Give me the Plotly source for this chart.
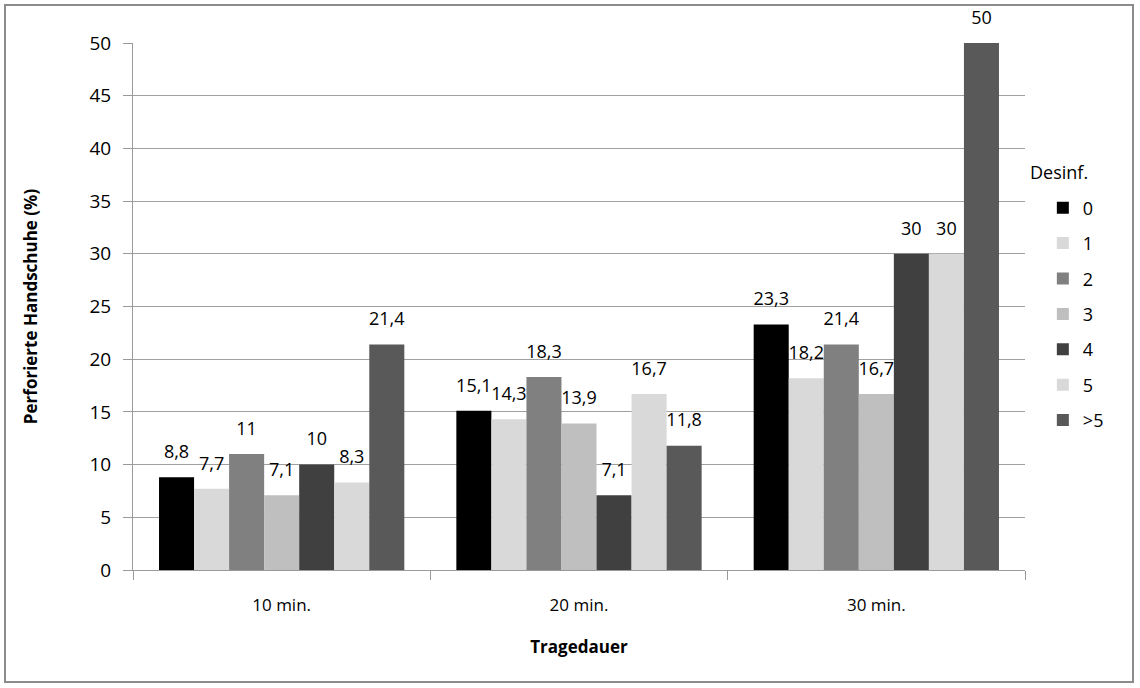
import plotly.graph_objects as go

categories = ["10 min.", "20 min.", "30 min."]
series_names = ["0", "1", "2", "3", "4", "5", ">5"]
values = {
    "0": [8.8, 15.1, 23.3],
    "1": [7.7, 14.3, 18.2],
    "2": [11, 18.3, 21.4],
    "3": [7.1, 13.9, 16.7],
    "4": [10, 7.1, 30],
    "5": [8.3, 16.7, 30],
    ">5": [21.4, 11.8, 50],
}
colors = ["#000000", "#d9d9d9", "#808080", "#bfbfbf", "#404040", "#d9d9d9", "#595959"]

FONT = "'Open Sans', sans-serif"

def fmt(v):
    s = ("%g" % v)
    return s.replace(".", ",")

fig = go.Figure()
for name, col in zip(series_names, colors):
    vals = values[name]
    fig.add_trace(go.Bar(
        x=categories, y=vals, name=name, marker_color=col, marker_line_width=0,
        offsetgroup=name, legendgroup=name, hoverinfo="x+y+name",
    ))
for name in series_names:
    vals = values[name]
    fig.add_trace(go.Scatter(
        x=categories, y=vals, mode="markers+text", offsetgroup=name,
        marker=dict(size=22, opacity=0), text=[fmt(v) for v in vals],
        textposition="top center", cliponaxis=False,
        textfont=dict(size=18, color="#000000", family=FONT),
        showlegend=False, hoverinfo="skip",
    ))

fig.update_layout(
    width=1140, height=688,
    barmode="group", bargap=0.175, bargroupgap=0,
    scattermode="group", scattergap=0.175,
    paper_bgcolor="white", plot_bgcolor="white",
    margin=dict(l=133, r=115, t=43, b=118),
    font=dict(family=FONT, size=18, color="#000000"),
    showlegend=True,
    legend=dict(
        x=1.02, xanchor="left", y=0.722, yanchor="top",
        traceorder="grouped", tracegroupgap=9,
        font=dict(size=18), itemwidth=30,
    ),
    annotations=[dict(
        text="Desinf.", xref="paper", yref="paper", x=1.0034, y=(570 - 172) / 527,
        xanchor="left", yanchor="middle", showarrow=False, font=dict(size=18),
    )],
    xaxis=dict(
        showline=True, linecolor="#9a9a9a", linewidth=1,
        ticks="outside", tickson="boundaries", ticklen=9, tickcolor="#9a9a9a",
        tickfont=dict(size=17), ticklabelstandoff=20,
        title=dict(text="<b>Tragedauer</b>", font=dict(size=17), standoff=25),
    ),
    yaxis=dict(
        range=[0, 50], dtick=5, showgrid=True, gridcolor="#a0a0a0", gridwidth=1,
        showline=True, linecolor="#9a9a9a", linewidth=1,
        ticks="outside", ticklen=9, tickcolor="#9a9a9a",
        tickfont=dict(size=19), zeroline=False, ticklabelstandoff=8,
        title=dict(text="<b>Perforierte Handschuhe (%)</b>", font=dict(size=17), standoff=47),
    ),
    shapes=[dict(
        type="rect", xref="paper", yref="paper",
        x0=(5 - 133) / 892, x1=(1133 - 133) / 892,
        y0=(570 - 682) / 527, y1=(570 - 5) / 527,
        line=dict(color="#8c8c8c", width=2), fillcolor="rgba(0,0,0,0)", layer="below",
    )],
)

fig.write_html("out.html", config={"displayModeBar": False},
               post_script="document.body.style.margin='0';document.body.style.overflow='hidden';")
